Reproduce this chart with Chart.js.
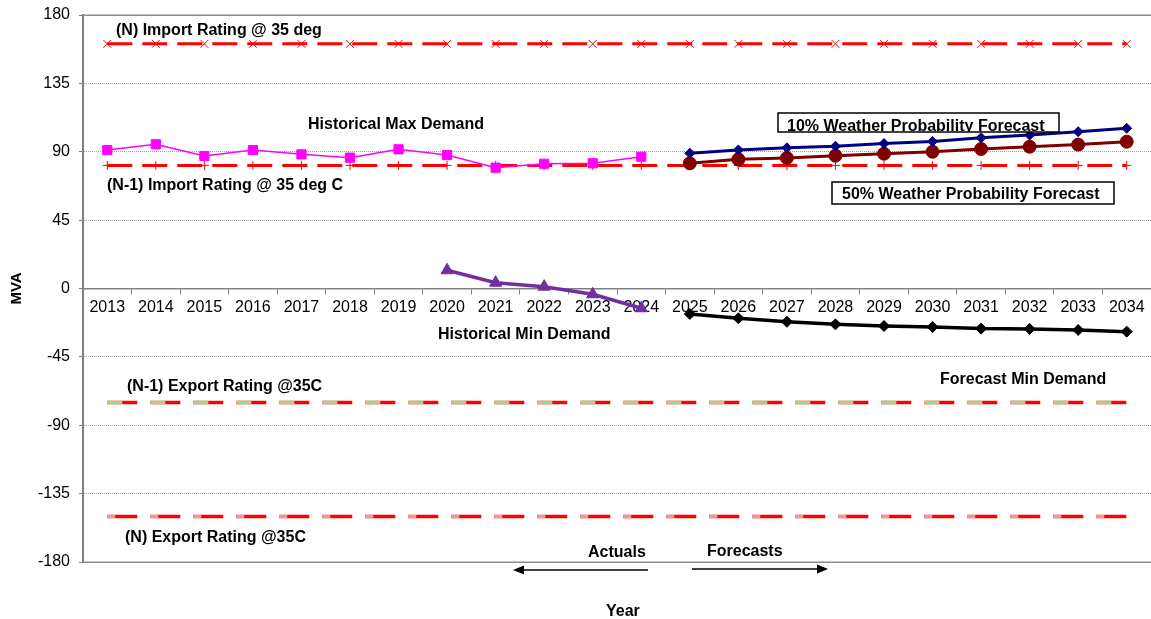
<!DOCTYPE html>
<html>
<head>
<meta charset="utf-8">
<script src="https://cdn.jsdelivr.net/npm/chart.js@4.4.1/dist/chart.umd.min.js"></script>
<style>
  html, body { margin: 0; padding: 0; background: #fff; }
  canvas { display: block; }
</style>
</head>
<body>
<canvas id="mva-chart" width="1151" height="619"></canvas>
<script>
var FONT = 'Arial, "Liberation Sans", sans-serif';

var years = [2013, 2014, 2015, 2016, 2017, 2018, 2019, 2020, 2021, 2022, 2023,
             2024, 2025, 2026, 2027, 2028, 2029, 2030, 2031, 2032, 2033, 2034];
var yTicks = [-180, -135, -90, -45, 0, 45, 90, 135, 180];

// ratings (MVA), one value per year
var nImport  = [161, 161, 161, 161, 161, 161, 161, 161, 161, 161, 161,
                161, 161, 161, 161, 161, 161, 161, 161, 161, 161, 161];
var n1Import = [81, 81, 81, 81, 81, 81, 81, 81, 81, 81, 81,
                81, 81, 81, 81, 81, 81, 81, 81, 81, 81, 81];
var n1Export = [-75, -75, -75, -75, -75, -75, -75, -75, -75, -75, -75,
                -75, -75, -75, -75, -75, -75, -75, -75, -75, -75, -75];
var nExport  = [-150, -150, -150, -150, -150, -150, -150, -150, -150, -150, -150,
                -150, -150, -150, -150, -150, -150, -150, -150, -150, -150, -150];

// actuals 2013-2024 and 2020-2024
var histMax = [91.1, 94.9, 87.2, 91.1, 88.3, 86.1, 91.6, 87.8, 79.5, 82.1, 82.4, 86.7];
var histMin = [12, 3.8, 1.2, -3.8, -13];
// forecasts 2025-2034
var poe10 = [89, 91.2, 92.6, 93.6, 95.4, 96.8, 99.2, 101, 103.2, 105.4];
var poe50 = [82.4, 85, 85.9, 87.4, 88.7, 90, 91.8, 93.3, 94.7, 96.6];
var fcMin = [-16.8, -19.6, -21.9, -23.6, -24.7, -25.3, -26.4, -26.6, -27.3, -28.4];

// place a series on the year axis starting at firstYear
function fromYear(firstYear, values) {
  var out = [];
  for (var i = 0; i < years.length; i++) {
    var k = years[i] - firstYear;
    out.push(k >= 0 && k < values.length ? values[k] : null);
  }
  return out;
}

function series(label, data, color, width, style, radius, dash) {
  return {
    label: label,
    data: data,
    borderColor: color,
    backgroundColor: color,
    borderWidth: width,
    borderDash: dash || [],
    pointStyle: style || false,
    pointRadius: style ? radius : 0,
    pointBorderColor: color,
    pointBackgroundColor: color,
    pointBorderWidth: 1,
    tension: 0,
    spanGaps: false
  };
}

var textNotes = [
  ['(N) Import Rating @ 35 deg', 116, 35],
  ['Historical Max Demand', 308, 129],
  ['(N-1) Import Rating @ 35 deg C', 107, 190],
  ['Historical Min Demand', 438, 339],
  ['Forecast Min Demand', 940, 384],
  ['(N-1) Export Rating @35C', 127, 391],
  ['(N) Export Rating @35C', 125, 542],
  ['Actuals', 588, 557],
  ['Forecasts', 707, 556],
  ['Year', 606, 616]
];
var boxNotes = [
  ['10% Weather Probability Forecast', 778, 113, 281, 19, 787, 131],
  ['50% Weather Probability Forecast', 832, 182, 282, 22, 842, 199]
];

function arrow(ctx, x1, x2, y) {
  var dir = x2 > x1 ? 1 : -1;
  ctx.beginPath();
  ctx.moveTo(x1, y);
  ctx.lineTo(x2 - dir * 8, y);
  ctx.stroke();
  ctx.beginPath();
  ctx.moveTo(x2, y);
  ctx.lineTo(x2 - dir * 11, y - 4.5);
  ctx.lineTo(x2 - dir * 11, y + 4.5);
  ctx.closePath();
  ctx.fill();
}

var notesPlugin = {
  id: 'notes',
  beforeDatasetsDraw: function(chart) {
    var ctx = chart.ctx, a = chart.chartArea, y = chart.scales.y;
    ctx.save();
    ctx.strokeStyle = '#8c8c8c';
    ctx.lineWidth = 1.5;
    [180, -180].forEach(function(v) {
      var py = Math.round(y.getPixelForValue(v)) + 0.25;
      ctx.beginPath();
      ctx.moveTo(a.left, py);
      ctx.lineTo(a.right, py);
      ctx.stroke();
    });
    ctx.restore();
  },
  afterDatasetsDraw: function(chart) {
    var ctx = chart.ctx;
    ctx.save();
    ctx.fillStyle = '#000';
    ctx.font = 'bold 16px ' + FONT;
    ctx.textBaseline = 'alphabetic';
    ctx.textAlign = 'left';
    textNotes.forEach(function(n) { ctx.fillText(n[0], n[1], n[2]); });

    boxNotes.forEach(function(b) {
      ctx.fillStyle = '#fff';
      ctx.fillRect(b[1], b[2], b[3], b[4]);
      ctx.save();
      ctx.beginPath();
      ctx.rect(b[1], b[2], b[3], b[4]);
      ctx.clip();
      ctx.fillStyle = '#000';
      ctx.fillText(b[0], b[5], b[6]);
      ctx.restore();
      ctx.strokeStyle = '#000';
      ctx.lineWidth = 1.5;
      ctx.strokeRect(b[1], b[2], b[3], b[4]);
    });

    ctx.strokeStyle = '#000';
    ctx.fillStyle = '#000';
    ctx.lineWidth = 1.5;
    arrow(ctx, 648, 513, 570);
    arrow(ctx, 692, 828, 569);
    ctx.restore();
  }
};

var hidden = [180, 0, -180];

new Chart(document.getElementById('mva-chart'), {
  type: 'line',
  data: {
    labels: years,
    datasets: [
      series('Historical Max Demand', fromYear(2013, histMax), '#ff00ff', 1.5, 'rect', 6.5),
      series('10% Weather Probability Forecast', fromYear(2025, poe10), '#000080', 3, 'rectRot', 5),
      series('50% Weather Probability Forecast', fromYear(2025, poe50), '#800000', 3, 'circle', 6.5),
      series('Historical Min Demand', fromYear(2020, histMin), '#7030a0', 3.5, 'triangle', 7),
      series('Forecast Min Demand', fromYear(2025, fcMin), '#000000', 3.5, 'rectRot', 5.5),
      series('(N) Import Rating', nImport, '#ff0000', 3, 'crossRot', 5.5, [25, 10]),
      series('(N-1) Import Rating', n1Import, '#ff0000', 3, 'cross', 4.5, [25, 10]),
      series('(N-1) Export Rating green', n1Export, '#a9d18e', 3.5, false, 0, [15, 28]),
      series('(N-1) Export Rating', n1Export, '#ff0000', 3.5, false, 0, [30, 13]),
      series('(N) Export Rating grey', nExport, '#d3a3a3', 3, false, 0, [8, 35]),
      series('(N) Export Rating', nExport, '#ff0000', 3.5, false, 0, [30, 13])
    ]
  },
  options: {
    responsive: false,
    animation: false,
    layout: { autoPadding: false, padding: { top: 15, bottom: 57, left: 0, right: 0 } },
    plugins: {
      legend: { display: false },
      tooltip: { enabled: false },
      title: { display: false }
    },
    scales: {
      x: {
        type: 'category',
        position: { y: 0 },
        offset: true,
        afterFit: function(scale) { scale.paddingLeft = 0; scale.paddingRight = 0; },
        ticks: { autoSkip: false, maxRotation: 0, color: '#000', padding: 4, font: { size: 16, family: FONT } },
        grid: { offset: true, drawOnChartArea: false, tickLength: 5, tickColor: '#808080', color: '#808080' },
        border: { color: '#808080', width: 1.5 }
      },
      y: {
        min: -180,
        max: 180,
        afterBuildTicks: function(scale) {
          scale.ticks = yTicks.map(function(v) { return { value: v }; });
        },
        afterFit: function(scale) {
          scale.width = 83;
          scale.paddingTop = 0;
          scale.paddingBottom = 0;
        },
        ticks: { color: '#000', padding: 9, font: { size: 16, family: FONT } },
        grid: {
          color: function(c) { return c.tick && hidden.indexOf(c.tick.value) >= 0 ? 'rgba(0,0,0,0)' : '#a0a0a0'; },
          tickColor: '#808080',
          tickLength: 4,
          lineWidth: 1
        },
        border: { color: '#808080', width: 2, dash: [1, 1] },
        title: {
          display: true,
          text: 'MVA',
          color: '#000',
          font: { size: 15, weight: 'bold', family: FONT },
          padding: { top: 8, bottom: 0 }
        }
      }
    }
  },
  plugins: [notesPlugin]
});
</script>
</body>
</html>
